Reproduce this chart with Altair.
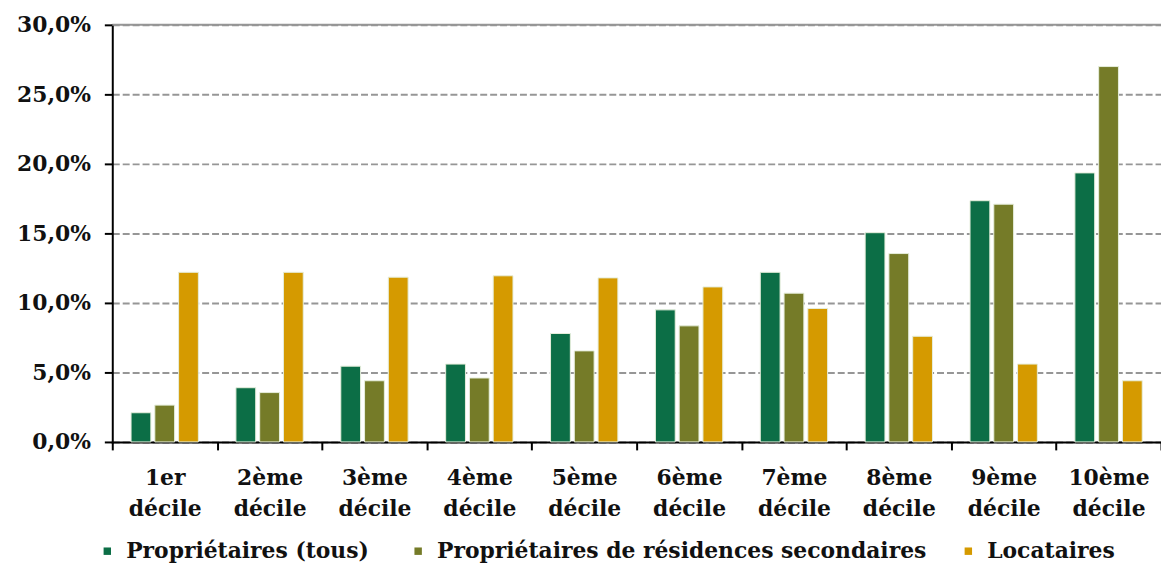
import altair as alt
import pandas as pd

categories = ["1er décile", "2ème décile", "3ème décile", "4ème décile", "5ème décile",
              "6ème décile", "7ème décile", "8ème décile", "9ème décile", "10ème décile"]
series = ["Propriétaires  (tous)", "Propriétaires de résidences secondaires", "Locataires"]
proprietaires = [2.1, 3.9, 5.45, 5.6, 7.8, 9.5, 12.2, 15.05, 17.35, 19.35]
secondaires = [2.65, 3.55, 4.4, 4.6, 6.55, 8.35, 10.7, 13.55, 17.1, 27.0]
locataires = [12.2, 12.2, 11.85, 11.95, 11.8, 11.15, 9.6, 7.6, 5.6, 4.4]
colors = ["#0C6E46", "#757B28", "#D59A00"]

rows = []
for s, vals in zip(series, [proprietaires, secondaires, locataires]):
    for c, v in zip(categories, vals):
        rows.append({"cat": c, "serie": s, "val": v})
df = pd.DataFrame(rows)

FONT = "DejaVu Serif"

bars = alt.Chart(df).mark_bar(stroke="#e6eedc", strokeWidth=1).encode(
    x=alt.X("cat:N", sort=categories, title=None,
            scale=alt.Scale(paddingInner=0, paddingOuter=0),
            axis=alt.Axis(labelExpr="split(datum.label, ' ')", labelAngle=0,
                          labelFont=FONT, labelFontWeight="bold", labelFontSize=22,
                          labelColor="#111", labelLineHeight=31, labelPadding=18,
                          tickBand="extent", tickSize=8, tickWidth=2, tickColor="#000",
                          domainColor="#000", domainWidth=2, grid=False)),
    xOffset=alt.XOffset("serie:N", sort=series,
                        scale=alt.Scale(paddingInner=0.167, paddingOuter=0.79)),
    y=alt.Y("val:Q", title=None,
            scale=alt.Scale(domain=[0, 30], nice=False),
            axis=alt.Axis(values=[0, 5, 10, 15, 20, 25, 30],
                          labelExpr="replace(format(datum.value, '.1f'), '.', ',') + '%'",
                          labelFont=FONT, labelFontWeight="bold", labelFontSize=22,
                          labelColor="#111", labelPadding=14,
                          tickSize=8, tickWidth=2, tickColor="#000",
                          domainColor="#000", domainWidth=2,
                          grid=True, gridColor="#969696", gridWidth=2,
                          gridDash=[7, 3])),
    color=alt.Color("serie:N", sort=series,
                    scale=alt.Scale(domain=series, range=colors),
                    legend=alt.Legend(title=None, orient="none", direction="horizontal",
                                      legendX=-16, legendY=519,
                                      symbolType="square", symbolSize=56,
                                      symbolStrokeWidth=0, labelLimit=0,
                                      labelFont=FONT, labelFontWeight="bold",
                                      labelFontSize=22, labelColor="#111",
                                      columnPadding=30, labelOffset=8)),
)

top = alt.Chart(pd.DataFrame({"y": [30]})).mark_rule(color="#969696", strokeWidth=2).encode(
    y="y:Q"
)

chart = alt.layer(bars, top).properties(
    width=1056, height=420, autosize="none",
    padding={"left": 105, "top": 15, "right": 0, "bottom": 130},
).configure_view(stroke=None).configure_axis(domainCap="square")

chart.save("out.html", embed_options={"renderer": "svg", "actions": False})
